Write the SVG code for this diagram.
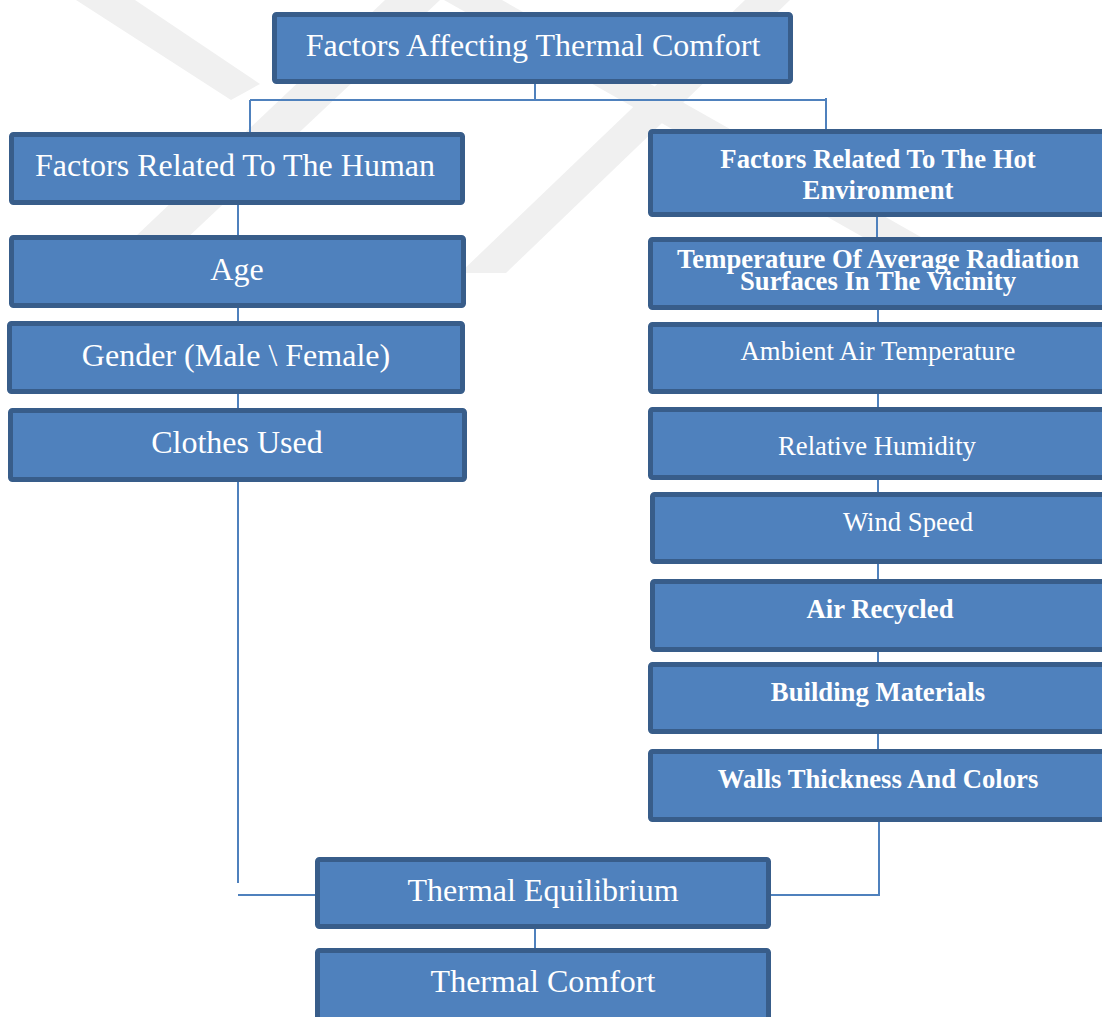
<svg xmlns="http://www.w3.org/2000/svg" width="1102" height="1017" viewBox="0 0 1102 1017">
<style>
.box{fill:#4F81BD;stroke:#385D8A;stroke-width:5}
.wm{fill:#F0F0F0}
.cn{fill:none;stroke:#4F81BD;stroke-width:2}
text{font-family:"Liberation Serif","Times New Roman",serif;fill:#FFFFFF;text-anchor:middle}
.l{font-size:32px}
.m{font-size:26.7px}
.b{font-size:26.7px;font-weight:bold}
</style>
<rect width="1102" height="1017" fill="#FFFFFF"/>
<g id="watermark">
<polygon class="wm" points="76,0 135,0 260,84 231,100"/>
<polygon class="wm" points="97,273 150,273 440,0 385,0"/>
<polygon class="wm" points="460,273 506,273 790,0 745,0"/>
<polygon class="wm" points="444,0 502,0 935,245 877,245"/>
</g>
<g id="connectors">
<path class="cn" d="M535 84V100M250 100H826M250 100V132M826 98V129"/>
<path class="cn" d="M238 205V235M238 308V321M238 394V408M238 482V883M238 895H315"/>
<path class="cn" d="M877 217V237M878 310V322M878 394V407M878 480V492M878 564V579M878 652V662M878 734V749M879 822V895H771"/>
<path class="cn" d="M535 929V948"/>
</g>
<g id="n-top"><rect class="box" x="274.5" y="14.5" width="516" height="67" rx="2"/><text class="l" x="533" y="56">Factors Affecting Thermal Comfort</text></g>
<g id="n-human"><rect class="box" x="11.5" y="134.5" width="451" height="68" rx="2"/><text class="l" x="235" y="176">Factors Related To The Human</text></g>
<g id="n-age"><rect class="box" x="11.5" y="237.5" width="452" height="68" rx="2"/><text class="l" x="237" y="280">Age</text></g>
<g id="n-gender"><rect class="box" x="9.5" y="323.5" width="453" height="68" rx="2"/><text class="l" x="236" y="366">Gender (Male \ Female)</text></g>
<g id="n-clothes"><rect class="box" x="10.5" y="410.5" width="454" height="69" rx="2"/><text class="l" x="237" y="453">Clothes Used</text></g>
<g id="n-hot"><rect class="box" x="650.5" y="131.5" width="460" height="83" rx="2"/><text class="b" x="878" y="168">Factors Related To The Hot</text><text class="b" x="878" y="199">Environment</text></g>
<g id="n-temp"><rect class="box" x="650.5" y="239.5" width="460" height="68" rx="2"/><text class="b" x="878" y="268">Temperature Of Average Radiation</text><text class="b" x="878" y="290">Surfaces In The Vicinity</text></g>
<g id="n-ambient"><rect class="box" x="650.5" y="324.5" width="460" height="67" rx="2"/><text class="m" x="878" y="360">Ambient Air Temperature</text></g>
<g id="n-humidity"><rect class="box" x="650.5" y="409.5" width="460" height="68" rx="2"/><text class="m" x="877" y="455">Relative Humidity</text></g>
<g id="n-wind"><rect class="box" x="652.5" y="494.5" width="460" height="67" rx="2"/><text class="m" x="908" y="531">Wind Speed</text></g>
<g id="n-air"><rect class="box" x="652.5" y="581.5" width="460" height="68" rx="2"/><text class="b" x="880" y="618">Air Recycled</text></g>
<g id="n-building"><rect class="box" x="650.5" y="664.5" width="460" height="67" rx="2"/><text class="b" x="878" y="701">Building Materials</text></g>
<g id="n-walls"><rect class="box" x="650.5" y="751.5" width="460" height="68" rx="2"/><text class="b" x="878" y="788">Walls Thickness And Colors</text></g>
<g id="n-equilibrium"><rect class="box" x="317.5" y="859.5" width="451" height="67" rx="2"/><text class="l" x="543" y="901">Thermal Equilibrium</text></g>
<g id="n-comfort"><rect class="box" x="317.5" y="950.5" width="451" height="70" rx="2"/><text class="l" x="543" y="992">Thermal Comfort</text></g>
</svg>
